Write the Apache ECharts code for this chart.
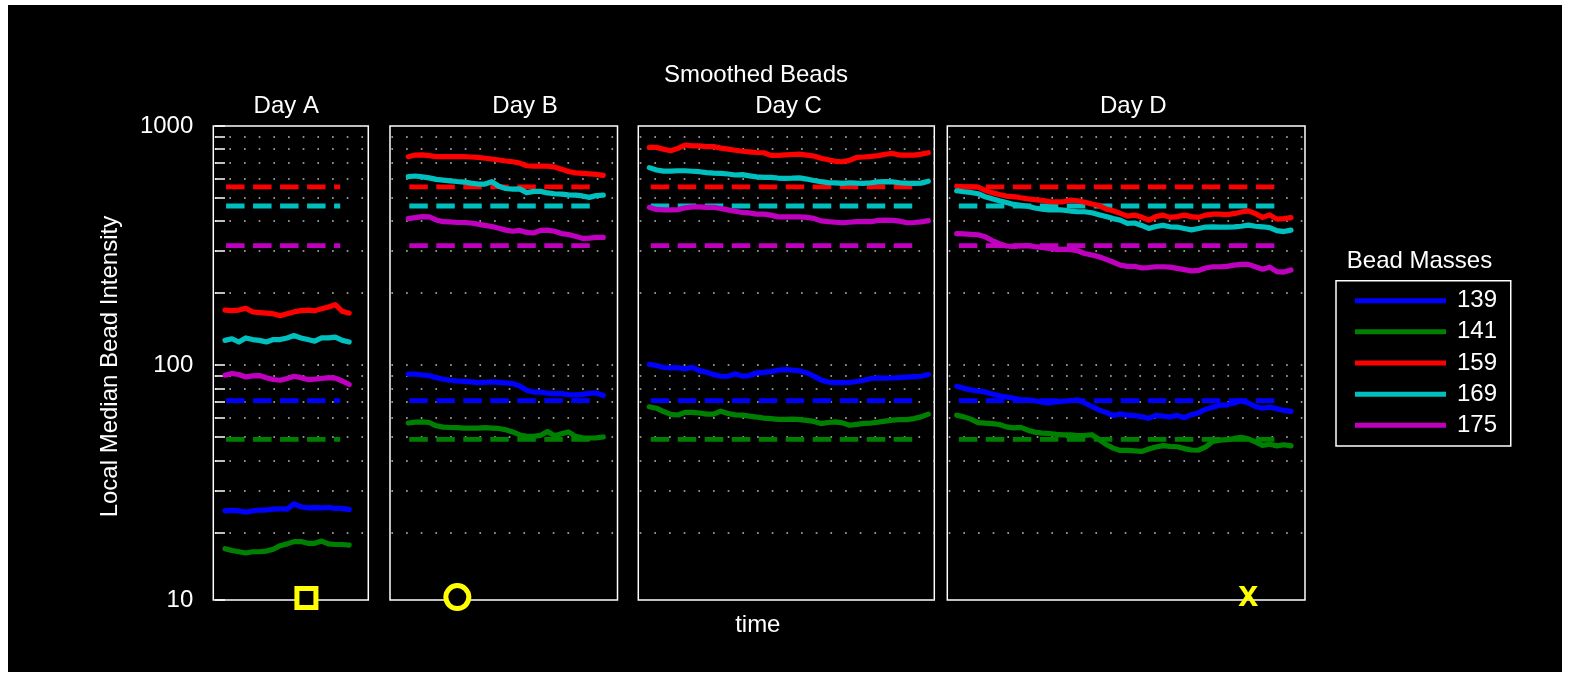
<!DOCTYPE html>
<html>
<head>
<meta charset="utf-8">
<script src="https://cdn.jsdelivr.net/npm/echarts@6.0.0/dist/echarts.min.js"></script>
<style>
html,body{margin:0;padding:0;background:#fff;width:1570px;height:677px;overflow:hidden;}
#chart{position:absolute;left:8px;top:5px;width:1554px;height:667px;background:#000;}
</style>
</head>
<body>
<div id="chart"></div>
<script>
// ---------- data ----------
const panelNames = ['Day A', 'Day B', 'Day C', 'Day D'];
const massNames = ['139', '141', '159', '169', '175'];
const refLevels = [71.1, 49.0, 556, 463, 316];
const refStart = [0.15, 0.14, 0.2, 0.3];
const refEnd = [16.7, 26.4, 37.1, 45.7];
const yMin = 10.43;
const yMax = 1000;
const yTickValues = [10.43, 20, 30, 40, 50, 60, 70, 80, 90, 100, 200, 300, 400, 500, 600, 700, 800, 900, 1000];
const yLabelValues = [10.43, 100, 1000];
const yLabelTexts = ['10', '100', '1000'];

const A139 = [24.6, 24.7, 24.6, 24.3, 24.6, 24.8, 24.8, 25.0, 25.1, 25.0, 26.3, 25.6, 25.3, 25.4, 25.3, 25.4, 25.2, 25.2, 24.9];
const A141 = [17.1, 16.8, 16.6, 16.4, 16.6, 16.6, 16.7, 17.0, 17.6, 17.9, 18.3, 18.3, 18.0, 18.0, 18.4, 17.9, 17.8, 17.8, 17.7];
const A159 = [170, 169, 170, 173, 167, 166, 165, 164, 161, 164, 167, 169, 170, 169, 172, 175, 179, 168, 165];
const A169 = [127, 129, 125, 130, 128, 127, 125, 128, 128, 130, 133, 130, 128, 126, 130, 130, 131, 127, 125];
const A175 = [90.8, 92.3, 91.4, 89.3, 90.2, 90.5, 88.7, 87.1, 86.5, 88.0, 89.9, 88.7, 87.1, 87.4, 88.0, 88.7, 88.3, 85.9, 83.0];

const B139 = [91.8, 91.7, 91.0, 90.5, 88.7, 87.4, 86.5, 85.9, 85.6, 85.1, 84.6, 84.8, 85.1, 84.8, 84.3, 83.8, 81.9, 78.6, 77.2, 77.2, 76.3, 76.0, 76.0, 75.3, 75.2, 75.5, 76.2, 76.5, 74.7];
const B141 = [57.3, 57.8, 57.9, 57.6, 55.8, 55.1, 54.9, 54.8, 54.6, 54.6, 54.6, 54.8, 54.6, 54.4, 53.7, 52.6, 51.1, 50.4, 50.4, 50.9, 52.8, 50.7, 51.7, 52.6, 50.4, 49.7, 49.6, 49.7, 50.1];
const B159 = [744, 756, 757, 752, 745, 744, 744, 744, 744, 742, 739, 733, 728, 721, 714, 709, 700, 682, 680, 680, 680, 674, 660, 645, 637, 634, 631, 628, 622];
const B169 = [614, 618, 613, 607, 598, 594, 590, 586, 583, 577, 572, 572, 585, 560, 548, 545, 546, 526, 533, 533, 525, 521, 519, 515, 514, 510, 503, 512, 514];
const B175 = [410, 414, 418, 417, 405, 398, 397, 395, 395, 393, 389, 384, 380, 374, 367, 363, 366, 359, 357, 366, 367, 363, 355, 352, 346, 339, 340, 342, 342];

const C139 = [100.9, 99.7, 97.8, 97.4, 97.6, 96.5, 98.0, 94.9, 93.5, 91.3, 89.9, 89.9, 92.0, 90.0, 90.5, 92.8, 93.3, 94.0, 95.3, 95.8, 95.3, 94.6, 93.0, 90.0, 86.8, 85.0, 84.6, 84.6, 84.8, 85.5, 86.5, 88.0, 88.5, 88.3, 88.4, 88.7, 89.1, 89.6, 89.9, 91.4];
const C141 = [67.0, 66.1, 64.0, 62.3, 61.9, 63.5, 63.5, 63.1, 62.4, 62.4, 64.2, 62.8, 62.0, 61.8, 61.2, 60.7, 60.1, 59.8, 59.4, 59.4, 59.5, 59.2, 58.8, 58.2, 57.0, 57.6, 57.9, 57.4, 56.1, 56.6, 57.1, 57.3, 57.8, 58.4, 58.9, 59.2, 59.2, 59.8, 60.8, 62.4];
const C159 = [814, 814, 799, 788, 806, 833, 826, 826, 820, 820, 808, 800, 792, 784, 779, 775, 773, 754, 753, 757, 760, 763, 756, 749, 733, 723, 712, 709, 718, 740, 742, 746, 752, 762, 768, 756, 756, 756, 763, 773];
const C169 = [670, 655, 648, 648, 650, 650, 647, 644, 638, 635, 634, 630, 624, 626, 619, 613, 610, 610, 606, 604, 605, 607, 600, 592, 585, 580, 578, 576, 579, 577, 576, 579, 584, 585, 584, 579, 577, 576, 577, 588];
const C175 = [457, 448, 446, 446, 447, 455, 459, 459, 457, 457, 452, 446, 440, 435, 433, 428, 428, 424, 417, 417, 417, 417, 415, 411, 401, 398, 396, 394, 396, 398, 398, 398, 403, 404, 403, 400, 394, 395, 397, 402];

const D139 = [81.6, 80.0, 78.8, 78.0, 77.3, 75.8, 74.5, 73.6, 72.8, 71.6, 71.6, 71.0, 70.0, 69.5, 70.3, 70.7, 71.0, 71.6, 69.5, 67.2, 65.0, 63.5, 61.7, 62.6, 61.8, 61.5, 61.0, 59.9, 61.7, 61.2, 60.8, 61.7, 60.3, 62.1, 63.2, 65.4, 66.7, 68.0, 68.3, 69.5, 71.0, 69.5, 67.2, 66.1, 66.7, 65.8, 64.7, 64.1];
const D141 = [61.8, 60.8, 59.5, 57.5, 57.2, 57.0, 56.5, 55.2, 54.7, 55.0, 53.5, 52.5, 52.0, 51.8, 51.4, 51.1, 51.2, 50.8, 50.9, 51.2, 49.0, 46.6, 45.0, 44.0, 44.0, 43.8, 43.6, 44.6, 45.5, 46.1, 45.8, 45.6, 44.8, 44.2, 44.1, 45.5, 48.0, 48.6, 48.8, 49.4, 49.9, 49.2, 47.8, 46.2, 46.7, 46.0, 46.5, 46.0];
const D159 = [560, 557, 557, 555, 538, 526, 517, 509, 507, 501, 496, 492, 489, 483, 482, 482, 490, 487, 480, 472, 465, 450, 442, 431, 420, 424, 416, 404, 418, 424, 415, 418, 424, 418, 415, 424, 428, 428, 426, 430, 437, 442, 430, 415, 425, 408, 410, 414];
const D169 = [536, 531, 527, 521, 506, 496, 487, 479, 470, 466, 462, 454, 449, 446, 447, 445, 441, 438, 438, 434, 426, 418, 410, 404, 392, 393, 384, 373, 380, 384, 379, 378, 373, 368, 373, 378, 379, 378, 378, 379, 381, 385, 381, 379, 376, 365, 362, 367];
const D175 = [355, 354, 352, 351, 344, 332, 322, 315, 314, 315, 316, 313, 311, 308, 305, 305, 304, 301, 293, 289, 284, 277, 270, 262, 259, 259, 255, 256, 258, 258, 257, 254, 251, 248, 249, 255, 258, 258, 259, 262, 264, 264, 258, 252, 257, 246, 245, 250];

// markers: [time, value]
const squareMarker = [11.8, 10.63];
const circleMarker = [7.04, 10.73];
const crossMarker = [41.0, 10.5];

// ---------- layout ----------
const panelSeries = [
  [A139, A141, A159, A169, A175],
  [B139, B141, B159, B169, B175],
  [C139, C141, C159, C169, C175],
  [D139, D141, D159, D169, D175]
];
const massColors = ['#0000ff', '#008000', '#ff0000', '#00bfbf', '#bf00bf'];
const FONT = '"Liberation Sans", Arial, Helvetica, sans-serif';
const gridBoxes = [
  { left: 205.3, width: 155 },
  { left: 382, width: 227.5 },
  { left: 630.3, width: 296 },
  { left: 939.3, width: 357.7 }
];
const xRanges = [[-1.70, 20.77], [-2.63, 30.04], [-1.54, 39.84], [-1.32, 48.97]];
const titleX = [278.3, 517, 780.6, 1125.3];

const grids = gridBoxes.map(g => ({
  left: g.left, top: 121, width: g.width, height: 474,
  show: true, borderColor: '#ffffff', borderWidth: 1.5, backgroundColor: 'transparent'
}));

const xAxes = gridBoxes.map((g, i) => ({
  gridIndex: i, type: 'value', min: xRanges[i][0], max: xRanges[i][1], show: false
}));

const yAxes = gridBoxes.map((g, i) => ({
  gridIndex: i, type: 'log', logBase: 10, min: yMin, max: yMax,
  axisLine: { show: false },
  axisTick: {
    show: i === 0, customValues: yTickValues, length: 10, inside: false,
    lineStyle: { color: '#ffffff', width: 1.5 }
  },
  axisLabel: {
    show: i === 0, customValues: yLabelValues, color: '#ffffff', fontSize: 24,
    fontFamily: FONT, margin: 20,
    formatter: v => {
      let best = 0, bd = Infinity;
      yLabelValues.forEach((lv, k) => { const d = Math.abs(Math.log(v) - Math.log(lv)); if (d < bd) { bd = d; best = k; } });
      return yLabelTexts[best];
    }
  },
  splitLine: {
    show: true,
    lineStyle: { color: '#bdbdbd', width: 1.5, type: [1.7, 12.97], dashOffset: 13.3 }
  },
  minorTick: { show: false },
  minorSplitLine: { show: false }
}));

const series = [];
// dashed reference levels
panelSeries.forEach((ps, i) => {
  massNames.forEach((m, k) => {
    series.push({
      type: 'line', name: 'ref' + m, xAxisIndex: i, yAxisIndex: i,
      data: [[refStart[i], refLevels[k]], [refEnd[i], refLevels[k]]],
      symbol: 'none', silent: true, z: 2,
      lineStyle: { color: massColors[k], width: 4.8, type: [18.5, 8.5] },
      color: massColors[k]
    });
  });
});
// solid smoothed bead traces
panelSeries.forEach((ps, i) => {
  ps.forEach((vals, k) => {
    series.push({
      type: 'line', name: massNames[k], xAxisIndex: i, yAxisIndex: i,
      data: vals.map((v, t) => [t, v]),
      symbol: 'none', z: 3,
      color: massColors[k],
      itemStyle: { color: massColors[k] },
      lineStyle: { color: massColors[k], width: 5.2, join: 'round', cap: 'round' }
    });
  });
});
// yellow markers
series.push({
  type: 'scatter', name: 'square', xAxisIndex: 0, yAxisIndex: 0, data: [squareMarker],
  symbol: 'rect', symbolSize: 19, clip: false, z: 6, silent: true,
  itemStyle: { color: '#000000', borderColor: '#ffff00', borderWidth: 5, opacity: 1 }
});
series.push({
  type: 'scatter', name: 'circle', xAxisIndex: 1, yAxisIndex: 1, data: [circleMarker],
  symbol: 'circle', symbolSize: 23, clip: false, z: 6, silent: true,
  itemStyle: { color: '#000000', borderColor: '#ffff00', borderWidth: 5, opacity: 1 }
});
series.push({
  type: 'scatter', name: 'cross', xAxisIndex: 3, yAxisIndex: 3, data: [crossMarker],
  symbol: 'circle', symbolSize: 1, clip: false, z: 6, silent: true,
  itemStyle: { color: 'rgba(0,0,0,0)', opacity: 1 },
  label: {
    show: true, position: 'inside', formatter: 'x', color: '#ffff00', opacity: 1,
    fontSize: 36, fontWeight: 'bold', fontFamily: FONT, offset: [0, -3]
  }
});

function txt(text, x, y, size, rot) {
  return {
    type: 'text', x: x, y: y, rotation: rot || 0, silent: true, z: 10,
    style: {
      text: text, fill: '#ffffff', font: size + 'px ' + FONT,
      align: 'center', verticalAlign: 'middle', textAlign: 'center', textVerticalAlign: 'middle'
    }
  };
}
const graphics = [
  txt('Smoothed Beads', 748, 70, 24),
  txt('time', 749.8, 620, 24),
  txt('Local Median Bead Intensity', 102.6, 361.6, 24, Math.PI / 2),
  txt('Bead Masses', 1411.5, 256.2, 24)
];
panelNames.forEach((p, i) => graphics.push(txt(p, titleX[i], 101.2, 24)));

const chart = echarts.init(document.getElementById('chart'), null, { renderer: 'canvas' });
chart.setOption({
  backgroundColor: '#000000',
  animation: false,
  textStyle: { fontFamily: FONT },
  grid: grids,
  xAxis: xAxes,
  yAxis: yAxes,
  legend: {
    show: true, data: massNames, orient: 'vertical',
    left: 1328, top: 275.7,
    icon: 'rect', itemWidth: 91, itemHeight: 5, itemGap: 7.15,
    padding: [8, 13.7, 8.7, 19],
    borderColor: '#ffffff', borderWidth: 1.5, backgroundColor: '#000000',
    selectedMode: false,
    itemStyle: { borderWidth: 0 },
    lineStyle: { width: 0 },
    textStyle: { color: '#ffffff', fontSize: 24, fontFamily: FONT, padding: [0, 0, 0, 6] }
  },
  graphic: graphics,
  series: series
});
</script>
</body>
</html>
